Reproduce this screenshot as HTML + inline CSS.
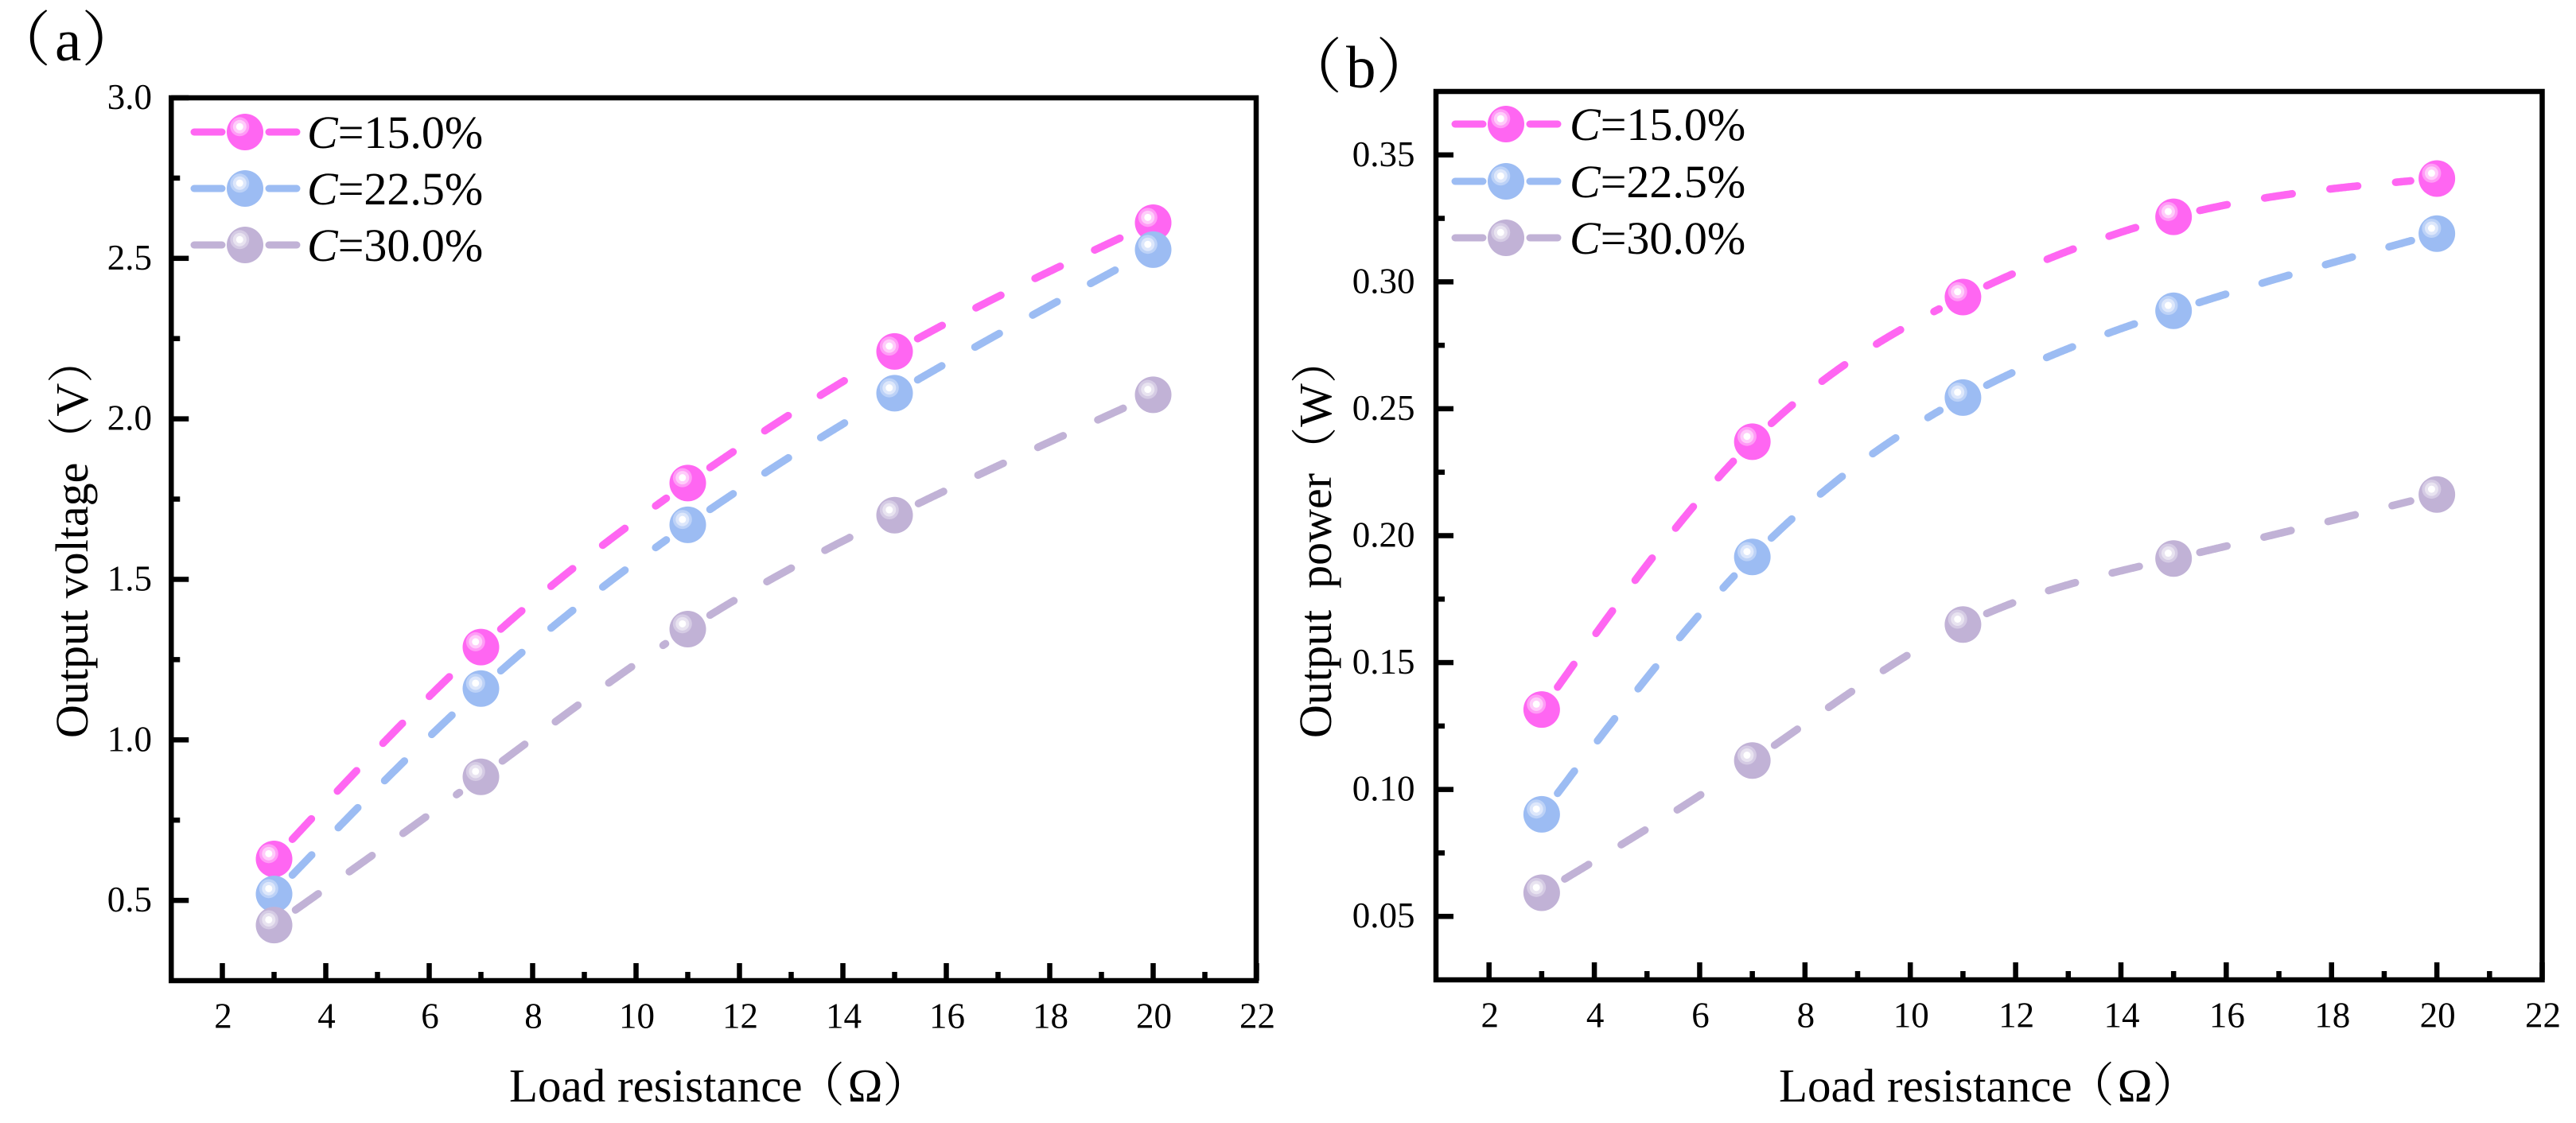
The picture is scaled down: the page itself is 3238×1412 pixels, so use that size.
<!DOCTYPE html>
<html lang="zh-CN">
<head>
<meta charset="utf-8">
<title>Output voltage and power versus load resistance</title>
<style>
html,body{margin:0;padding:0;background:#fff;width:3238px;height:1412px;overflow:hidden}
svg{display:block}
text{font-family:"Liberation Serif","Noto Serif CJK SC",serif;fill:#000}
.tick{font-size:45px}
.title{font-size:59px;white-space:pre}
.legend{font-size:58px}
.panel{font-size:75px}
</style>
</head>
<body>
<svg id="figure" xmlns="http://www.w3.org/2000/svg" width="3238" height="1412" viewBox="0 0 3238 1412">
  <text class="panel" x="-11" y="76">（<tspan dx="5">a</tspan>）</text>
  <text class="panel" x="1612" y="110">（<tspan dx="5">b</tspan>）</text>

  <text class="title" x="640" y="1385">Load resistance<tspan dx="-6">（</tspan><tspan dx="4">Ω</tspan>）</text>
  <text class="title" x="2236" y="1385">Load resistance<tspan dx="-6">（</tspan><tspan dx="4">Ω</tspan>）</text>
  <text class="title" style="font-size:58px" transform="translate(110 928) rotate(-90)">Output voltage（V）</text>
  <text class="title" style="font-size:58px" transform="translate(1673 928) rotate(-90)">Output  <tspan dx="-2">power</tspan>（W）</text>

  <g id="panel-a"></g>
  <g id="panel-b"></g>

  <g>
    <text class="legend" x="386" y="186"><tspan font-style="italic">C</tspan>=15.0%</text>
    <text class="legend" x="386" y="257"><tspan font-style="italic">C</tspan>=22.5%</text>
    <text class="legend" x="386" y="328"><tspan font-style="italic">C</tspan>=30.0%</text>
  </g>
  <g>
    <text class="legend" x="1973" y="176"><tspan font-style="italic">C</tspan>=15.0%</text>
    <text class="legend" x="1973" y="248"><tspan font-style="italic">C</tspan>=22.5%</text>
    <text class="legend" x="1973" y="319"><tspan font-style="italic">C</tspan>=30.0%</text>
  </g>
</svg>

<script>
// Data
const loadResistance = [3, 7, 11, 15, 20];
const voltageC15 = [0.629, 1.289, 1.80, 2.21, 2.611];
const voltageC22 = [0.52, 1.16, 1.67, 2.08, 2.527];
const voltageC30 = [0.423, 0.885, 1.345, 1.70, 2.075];
const powerC15 = [0.1315, 0.237, 0.294, 0.3256, 0.3407];
const powerC22 = [0.0902, 0.1916, 0.2544, 0.2886, 0.319];
const powerC30 = [0.0593, 0.1114, 0.165, 0.191, 0.2162];
const xMajorTicks = ['2', '4', '6', '8', '10', '12', '14', '16', '18', '20', '22'];
const xMinorTicks = [3, 5, 7, 9, 11, 13, 15, 17, 19, 21];
const voltageMajorTicks = ['0.5', '1.0', '1.5', '2.0', '2.5', '3.0'];
const voltageMinorTicks = [0.75, 1.25, 1.75, 2.25, 2.75];
const powerMajorTicks = ['0.05', '0.10', '0.15', '0.20', '0.25', '0.30', '0.35'];
const powerMinorTicks = [0.075, 0.125, 0.175, 0.225, 0.275, 0.325];

const palette = {
  c15: {base: '#FF66F2', outer: '#FF9CF6', mid: '#FFCCFA'},
  c22: {base: '#9CBCF3', outer: '#BDD2F7', mid: '#DDE7FB'},
  c30: {base: '#C1B2D6', outer: '#D5CBE4', mid: '#E8E3F0'}
};

const SVG_NS = 'http://www.w3.org/2000/svg';

function make(parent, tag, attrs) {
  const el = document.createElementNS(SVG_NS, tag);
  for (const k in attrs) el.setAttribute(k, attrs[k]);
  parent.appendChild(el);
  return el;
}

function linearScale(d0, d1, r0, r1) {
  return v => r0 + (v - d0) * (r1 - r0) / (d1 - d0);
}

// Natural cubic spline through pixel points
function splineSegments(pts) {
  const n = pts.length;
  const h = [], a = new Array(n).fill(0), b = new Array(n).fill(1), c = new Array(n).fill(0), d = new Array(n).fill(0);
  for (let i = 0; i < n - 1; i++) h.push(pts[i + 1][0] - pts[i][0]);
  for (let i = 1; i < n - 1; i++) {
    a[i] = h[i - 1];
    b[i] = 2 * (h[i - 1] + h[i]);
    c[i] = h[i];
    d[i] = 6 * ((pts[i + 1][1] - pts[i][1]) / h[i] - (pts[i][1] - pts[i - 1][1]) / h[i - 1]);
  }
  for (let i = 1; i < n; i++) {
    const m = a[i] / b[i - 1];
    b[i] -= m * c[i - 1];
    d[i] -= m * d[i - 1];
  }
  const M = new Array(n).fill(0);
  M[n - 1] = d[n - 1] / b[n - 1];
  for (let i = n - 2; i >= 0; i--) M[i] = (d[i] - c[i] * M[i + 1]) / b[i];
  const segs = [];
  for (let i = 0; i < n - 1; i++) {
    const s = [];
    const steps = Math.ceil(h[i]);
    for (let j = 0; j <= steps; j++) {
      const t = pts[i][0] + h[i] * j / steps;
      const A = (pts[i + 1][0] - t) / h[i], B = (t - pts[i][0]) / h[i];
      const y = A * pts[i][1] + B * pts[i + 1][1] + ((A * A * A - A) * M[i] + (B * B * B - B) * M[i + 1]) * h[i] * h[i] / 6;
      s.push([t, y]);
    }
    segs.push(s);
  }
  return segs;
}

const MARKER_GAP = 33;

function trimmedPath(seg) {
  const p0 = seg[0], p1 = seg[seg.length - 1];
  const kept = seg.filter(p => Math.hypot(p[0] - p0[0], p[1] - p0[1]) >= MARKER_GAP && Math.hypot(p[0] - p1[0], p[1] - p1[1]) >= MARKER_GAP);
  return 'M' + kept.map(p => p[0].toFixed(1) + ' ' + p[1].toFixed(1)).join('L');
}

function drawSphere(parent, cx, cy, colors, name) {
  const g = make(parent, 'g', {});
  
  
  make(g, 'circle', {cx: cx, cy: cy, r: 23, fill: colors.base});
  make(g, 'circle', {cx: cx - 6.7, cy: cy - 6.7, r: 12, fill: colors.outer});
  make(g, 'circle', {cx: cx - 6.7, cy: cy - 6.7, r: 8.5, fill: colors.mid});
  make(g, 'circle', {cx: cx - 6.7, cy: cy - 6.7, r: 4.5, fill: '#FFFFFF'});
}

function drawAxes(root, frame, xScale, yScale, yMajor, yMinor, cfg) {
  const black = '#000';
  const xMajorGroup = make(root, 'g', {});
  
  
  xMajorTicks.forEach(label => {
    const x = xScale(Number(label));
    const tick = make(xMajorGroup, 'rect', {x: x - 3.25, y: frame.bottom - 22, width: 6.5, height: 22, fill: black});
    
    
    const t = make(xMajorGroup, 'text', {x: x + 1, y: cfg.xLabelY, 'text-anchor': 'middle', class: 'tick'});
    
    
    t.textContent = label;
  });
  xMinorTicks.forEach(v => {
    const tick = make(xMajorGroup, 'rect', {x: xScale(v) - 3.25, y: frame.bottom - 11, width: 6.5, height: 11, fill: black});
    
    
  });
  const yGroup = make(root, 'g', {});
  
  
  yMajor.forEach(label => {
    const y = yScale(Number(label));
    const tick = make(yGroup, 'rect', {x: frame.left, y: y - 3.25, width: 22, height: 6.5, fill: black});
    
    
    const t = make(yGroup, 'text', {x: cfg.yLabelX, y: y + 14, 'text-anchor': 'end', class: 'tick'});
    
    
    t.textContent = label;
  });
  yMinor.forEach(v => {
    const tick = make(yGroup, 'rect', {x: frame.left, y: yScale(v) - 3.25, width: 11, height: 6.5, fill: black});
    
    
  });
  const box = make(root, 'rect', {x: frame.left, y: frame.top, width: frame.right - frame.left, height: frame.bottom - frame.top, fill: 'none', stroke: black, 'stroke-width': 6.5});
  
  
}

function drawSeries(root, xs, ys, xScale, yScale, colors, name) {
  const g = make(root, 'g', {});
  
  
  const pts = xs.map((x, i) => [xScale(x), yScale(ys[i])]);
  splineSegments(pts).forEach(seg => {
    const p = make(g, 'path', {d: trimmedPath(seg), fill: 'none', stroke: colors.base, 'stroke-width': 9.5, 'stroke-linecap': 'round', 'stroke-dasharray': '35 48'});
    
    
  });
  pts.forEach(pt => drawSphere(g, pt[0], pt[1], colors, 'data-point'));
}

function drawLegendKey(root, cx, cy, colors, name) {
  const g = make(root, 'g', {});
  
  
  make(g, 'line', {x1: cx - 64, y1: cy, x2: cx - 29, y2: cy, stroke: colors.base, 'stroke-width': 9, 'stroke-linecap': 'round'});
  make(g, 'line', {x1: cx + 30, y1: cy, x2: cx + 65, y2: cy, stroke: colors.base, 'stroke-width': 9, 'stroke-linecap': 'round'});
  drawSphere(g, cx, cy, colors, 'legend-marker');
}

// Panel (a)
const frameA = {left: 215.25, right: 1579, top: 123, bottom: 1233};
const xA = linearScale(1, 22, 214.5, 1579.5);
const yA = linearScale(0.25, 3.0, 1233, 123);
const rootA = document.getElementById('panel-a');
drawAxes(rootA, frameA, xA, yA, voltageMajorTicks, voltageMinorTicks, {xLabelY: 1292.5, yLabelX: 191});
drawSeries(rootA, loadResistance, voltageC15, xA, yA, palette.c15, 'voltage-series-c15');
drawSeries(rootA, loadResistance, voltageC22, xA, yA, palette.c22, 'voltage-series-c22');
drawSeries(rootA, loadResistance, voltageC30, xA, yA, palette.c30, 'voltage-series-c30');
drawLegendKey(rootA, 308, 166, palette.c15, 'legend-key-a-15');
drawLegendKey(rootA, 308, 237, palette.c22, 'legend-key-a-22');
drawLegendKey(rootA, 308, 308, palette.c30, 'legend-key-a-30');

// Panel (b)
const frameB = {left: 1805, right: 3195.5, top: 115, bottom: 1232};
const xB = linearScale(1, 22, 1805.5, 3195.5);
const yB = linearScale(0.025, 0.375, 1232, 115);
const rootB = document.getElementById('panel-b');
drawAxes(rootB, frameB, xB, yB, powerMajorTicks, powerMinorTicks, {xLabelY: 1291.5, yLabelX: 1778.5});
drawSeries(rootB, loadResistance, powerC15, xB, yB, palette.c15, 'power-series-c15');
drawSeries(rootB, loadResistance, powerC22, xB, yB, palette.c22, 'power-series-c22');
drawSeries(rootB, loadResistance, powerC30, xB, yB, palette.c30, 'power-series-c30');
drawLegendKey(rootB, 1893, 156, palette.c15, 'legend-key-b-15');
drawLegendKey(rootB, 1893, 228, palette.c22, 'legend-key-b-22');
drawLegendKey(rootB, 1893, 299, palette.c30, 'legend-key-b-30');
</script>
</body>
</html>
